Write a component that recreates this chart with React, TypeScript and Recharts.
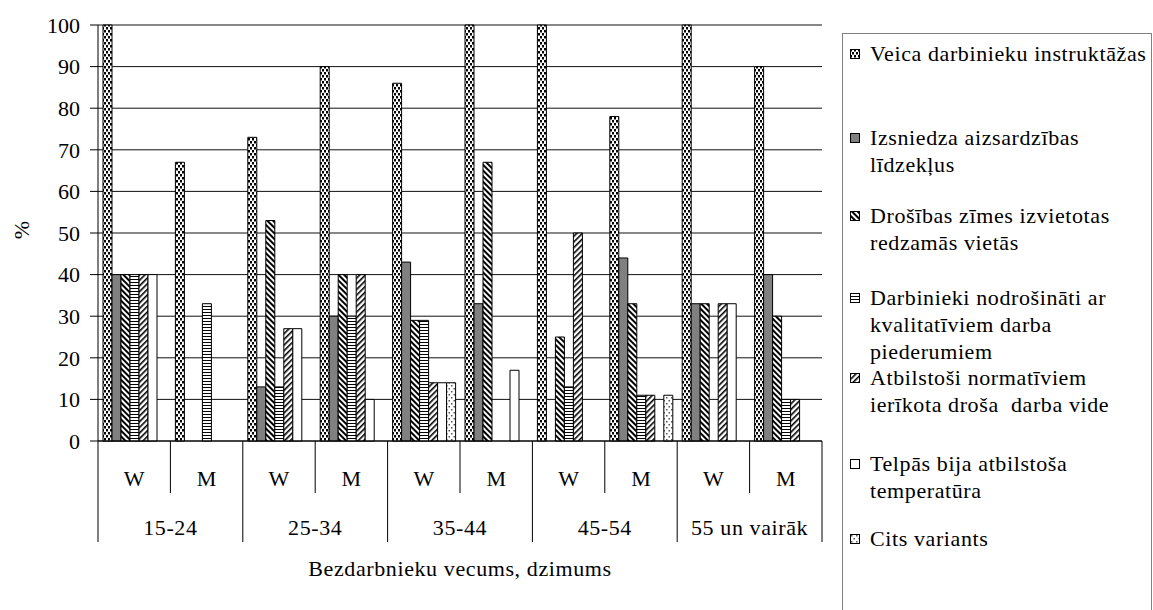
import { BarChart, Bar, XAxis, YAxis, CartesianGrid } from "recharts";

// x axis: sex within each age group
const sexLabels = ["W", "M", "W", "M", "W", "M", "W", "M", "W", "M"];
const ageGroups = ["15-24", "25-34", "35-44", "45-54", "55 un vairāk"];
const yTicks = [0, 10, 20, 30, 40, 50, 60, 70, 80, 90, 100];

// series values (%), one per column
const instruktazas = [100, 67, 73, 90, 86, 100, 100, 78, 100, 90];
const lidzekli = [40, 0, 13, 30, 43, 33, 0, 44, 33, 40];
const zimes = [40, 0, 53, 40, 29, 67, 25, 33, 33, 30];
const piederumi = [40, 33, 13, 30, 29, 0, 13, 11, 0, 10];
const videNorm = [40, 0, 27, 40, 14, 0, 50, 11, 33, 10];
const temperatura = [40, 0, 27, 10, 14, 17, 0, 0, 33, 0];
const cits = [0, 0, 0, 0, 14, 0, 0, 11, 0, 0];

const seriesNames = [
  "Veica darbinieku instruktāžas",
  "Izsniedza aizsardzības līdzekļus",
  "Drošības zīmes izvietotas redzamās vietās",
  "Darbinieki nodrošināti ar kvalitatīviem darba piederumiem",
  "Atbilstoši normatīviem ierīkota droša  darba vide",
  "Telpās bija atbilstoša temperatūra",
  "Cits variants",
];
// legend text broken the way the original wraps it
const legendLines = [
  ["Veica darbinieku instruktāžas"],
  ["Izsniedza aizsardzības", "līdzekļus"],
  ["Drošības zīmes izvietotas", "redzamās vietās"],
  ["Darbinieki nodrošināti ar", "kvalitatīviem darba", "piederumiem"],
  ["Atbilstoši normatīviem", "ierīkota droša  darba vide"],
  ["Telpās bija atbilstoša", "temperatūra"],
  ["Cits variants"],
];
const legendTops = [6, 90, 168, 250, 330, 416, 491];

const keys = ["s1", "s2", "s3", "s4", "s5", "s6", "s7"];
const fills = [
  "url(#pDots)",
  "#808080",
  "url(#pBack)",
  "url(#pHoriz)",
  "url(#pFwd)",
  "#ffffff",
  "url(#pLight)",
];

const data = sexLabels.map((sex, i) => ({
  sex,
  s1: instruktazas[i],
  s2: lidzekli[i],
  s3: zimes[i],
  s4: piederumi[i],
  s5: videNorm[i],
  s6: temperatura[i],
  s7: cits[i],
}));

const W = 1153;
const H = 610;
const M = { top: 25, right: 331, bottom: 0, left: 0 };
const Y_W = 98;
const bw = (W - M.right - M.left - Y_W) / sexLabels.length;
const FONT = '"Liberation Serif", "Times New Roman", serif';
const FS = 22;
const LS = 0.6;

function SexTick(props: any) {
  const { x, y, payload, index } = props;
  const left = x - bw / 2;
  const groupStart = index % 2 === 0;
  return (
    <g>
      <line x1={left} x2={left} y1={y} y2={y + (groupStart ? 101 : 52)} stroke="#000" />
      {index === sexLabels.length - 1 && (
        <line x1={x + bw / 2} x2={x + bw / 2} y1={y} y2={y + 101} stroke="#000" />
      )}
      <text x={x} y={y + 37} textAnchor="middle" dominantBaseline="central" fontSize={FS} fill="#000" fontFamily={FONT}>
        {payload.value}
      </text>
      {groupStart && (
        <text x={x + bw / 2} y={y + 86} textAnchor="middle" dominantBaseline="central" fontSize={FS} fill="#000" fontFamily={FONT} letterSpacing={LS}>
          {ageGroups[index / 2]}
        </text>
      )}
    </g>
  );
}

function Patterns() {
  return (
    <svg width={0} height={0} style={{ position: "absolute" }}>
      <defs>
        <pattern id="pDots" width={4} height={6} patternUnits="userSpaceOnUse">
          <rect width={4} height={6} fill="#fff" />
          <rect x={0} y={0} width={2} height={2.5} fill="#000" />
          <rect x={2} y={3} width={2} height={2.5} fill="#000" />
        </pattern>
        <pattern id="pBack" width={4} height={4} patternUnits="userSpaceOnUse" patternTransform="rotate(-45)">
          <rect width={4} height={4} fill="#fff" />
          <rect width={2} height={4} fill="#000" />
        </pattern>
        <pattern id="pFwd" width={4} height={4} patternUnits="userSpaceOnUse" patternTransform="rotate(45)">
          <rect width={4} height={4} fill="#fff" />
          <rect width={1.6} height={4} fill="#000" />
        </pattern>
        <pattern id="pHoriz" width={4} height={3} patternUnits="userSpaceOnUse">
          <rect width={4} height={3} fill="#fff" />
          <rect width={4} height={1} fill="#000" />
        </pattern>
        <pattern id="pLight" width={5} height={6} patternUnits="userSpaceOnUse">
          <rect width={5} height={6} fill="#fff" />
          <rect x={1} y={1} width={1.5} height={1.5} fill="#555" />
          <rect x={3.5} y={4} width={1.5} height={1.5} fill="#555" />
        </pattern>
      </defs>
    </svg>
  );
}

export default function App() {
  return (
    <div style={{ position: "absolute", left: 0, top: 0, width: W, height: H, background: "#fff", fontFamily: FONT }}>
      <Patterns />
      <BarChart width={W} height={H} data={data} margin={M} barGap={0} barSize={9}>
        <CartesianGrid vertical={false} stroke="#111" />
        <XAxis
          dataKey="sex"
          height={H - 441}
          interval={0}
          tickLine={false}
          tickSize={0}
          tickMargin={0}
          axisLine={{ stroke: "#000" }}
          tick={(p: any) => <SexTick {...p} />}
          label={{
            content: (p: any) => {
              const vb = p.viewBox;
              return (
                <text x={vb.x + vb.width / 2} y={vb.y + 127} textAnchor="middle" dominantBaseline="central" fontSize={FS} fill="#000" fontFamily={FONT} letterSpacing={LS}>
                  Bezdarbnieku vecums, dzimums
                </text>
              );
            },
          }}
        />
        <YAxis
          domain={[0, 100]}
          ticks={yTicks}
          width={Y_W}
          tickSize={8}
          tickMargin={10}
          interval={0}
          axisLine={{ stroke: "#000" }}
          tickLine={{ stroke: "#000" }}
          tick={{ fill: "#000", fontSize: FS, fontFamily: FONT }}
          label={{
            content: (p: any) => {
              const vb = p.viewBox;
              const cx = vb.x + 21;
              const cy = vb.y + vb.height / 2 - 3;
              return (
                <text x={cx} y={cy} transform={`rotate(-90 ${cx} ${cy})`} textAnchor="middle" dominantBaseline="central" fontSize={FS} fill="#000" fontFamily={FONT}>
                  %
                </text>
              );
            },
          }}
        />
        <YAxis yAxisId="frame" orientation="right" width={0} domain={[0, 100]} tick={false} tickLine={false} axisLine={{ stroke: "#808080" }} />
        {keys.map((k, i) => (
          <Bar key={k} dataKey={k} name={seriesNames[i]} fill={fills[i]} stroke="#000" strokeWidth={1} isAnimationActive={false} />
        ))}
      </BarChart>
      <div
        style={{
          position: "absolute",
          left: 842,
          top: 33,
          width: 310,
          height: 600,
          border: "1px solid #808080",
          boxSizing: "border-box",
        }}
      >
        {legendLines.map((lines, i) => (
          <div key={i} style={{ position: "absolute", left: 0, top: legendTops[i], width: 310 }}>
            <svg width={10} height={10} style={{ position: "absolute", left: 7, top: 9 }}>
              <rect x={0.5} y={0.5} width={9} height={9} fill={fills[i]} stroke="#000" strokeWidth={1} />
            </svg>
            <div style={{ position: "absolute", left: 27, top: 0, fontSize: FS, lineHeight: "27px", letterSpacing: LS, color: "#000", whiteSpace: "pre" }}>
              {lines.join("\n")}
            </div>
          </div>
        ))}
      </div>
    </div>
  );
}
